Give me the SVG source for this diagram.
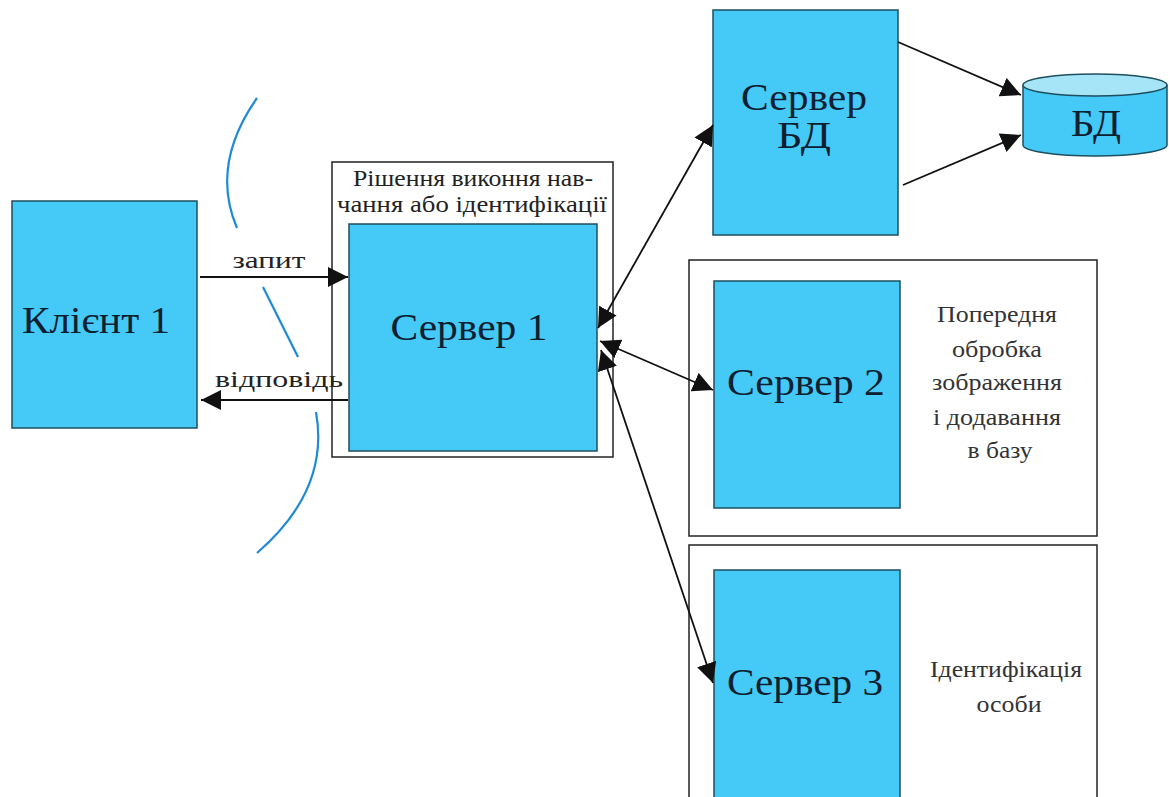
<svg xmlns="http://www.w3.org/2000/svg" width="1169" height="797" viewBox="0 0 1169 797">
<style>
.node{fill:#45c9f7;stroke:#1d4f5e;stroke-width:1.5}
.frame{fill:none;stroke:#222;stroke-width:1.5}
text{font-family:"Liberation Serif","DejaVu Serif",serif;text-anchor:middle}
.big{font-size:37px;fill:#0c2030}
.lbl{font-size:23px;fill:#222}
.side{font-size:23px;fill:#333}
.con{stroke:#111;stroke-width:1.8;fill:none}
.arc{stroke:#1f8ad6;stroke-width:2.2;fill:none}
</style>
<defs>
<marker id="ahb" viewBox="0 0 10 10" refX="10" refY="5" markerWidth="20" markerHeight="20" markerUnits="userSpaceOnUse" orient="auto-start-reverse">
<path d="M0,0 L10,5 L0,10 z" fill="#111"/>
</marker>
</defs>
<rect width="1169" height="797" fill="#fff"/>

<g id="arcs">
<path class="arc" d="M257,98 Q210,165 237,228"/>
<path class="arc" d="M263,287 L298,357"/>
<path class="arc" d="M316,412 Q330,490 257,553"/>
</g>

<g id="client1">
<rect class="node" x="12" y="201" width="185" height="227"/>
<text class="big" x="96" y="333" textLength="148" lengthAdjust="spacingAndGlyphs">Клієнт 1</text>
</g>

<g id="server1">
<rect class="frame" x="332" y="162" width="281" height="295"/>
<text class="lbl" x="473" y="186" textLength="240" lengthAdjust="spacingAndGlyphs">Рішення виконня нав-</text>
<text class="lbl" x="472" y="212" textLength="270" lengthAdjust="spacingAndGlyphs">чання або ідентифікації</text>
<rect class="node" x="349" y="224" width="248" height="227"/>
<text class="big" x="469" y="340" textLength="157" lengthAdjust="spacingAndGlyphs">Сервер 1</text>
</g>

<g id="serverBD">
<rect class="node" x="713" y="10" width="185" height="225"/>
<text class="big" x="804" y="110" textLength="126" lengthAdjust="spacingAndGlyphs">Сервер</text>
<text class="big" x="804" y="148" textLength="54" lengthAdjust="spacingAndGlyphs">БД</text>
</g>

<g id="bd">
<path class="node" d="M1023,85 L1023,145 A72,11 0 0 0 1167,145 L1167,85"/>
<ellipse cx="1095" cy="85" rx="72" ry="11" fill="#a6e4f7" stroke="#1d4f5e" stroke-width="1.5"/>
<text class="big" x="1096" y="136" textLength="50" lengthAdjust="spacingAndGlyphs">БД</text>
</g>

<g id="server2">
<rect class="frame" x="689" y="260" width="408" height="276"/>
<rect class="node" x="714" y="281" width="186" height="227"/>
<text class="big" x="806" y="395" textLength="158" lengthAdjust="spacingAndGlyphs">Сервер 2</text>
<text class="side" x="997" y="322" textLength="120" lengthAdjust="spacingAndGlyphs">Попередня</text>
<text class="side" x="997" y="357" textLength="90" lengthAdjust="spacingAndGlyphs">обробка</text>
<text class="side" x="997" y="390" textLength="130" lengthAdjust="spacingAndGlyphs">зображення</text>
<text class="side" x="997" y="425" textLength="128" lengthAdjust="spacingAndGlyphs">і додавання</text>
<text class="side" x="1000" y="458" textLength="65" lengthAdjust="spacingAndGlyphs">в базу</text>
</g>

<g id="server3">
<rect class="frame" x="689" y="545" width="408" height="260"/>
<rect class="node" x="714" y="570" width="186" height="235"/>
<text class="big" x="805" y="695" textLength="156" lengthAdjust="spacingAndGlyphs">Сервер 3</text>
<text class="side" x="1006" y="677" textLength="152" lengthAdjust="spacingAndGlyphs">Ідентифікація</text>
<text class="side" x="1009" y="712" textLength="65" lengthAdjust="spacingAndGlyphs">особи</text>
</g>

<g id="connectors">
<line class="con" x1="200" y1="277" x2="348" y2="277" marker-end="url(#ahb)"/>
<text class="lbl" x="269" y="268" textLength="73" lengthAdjust="spacingAndGlyphs">запит</text>
<line class="con" x1="348" y1="400" x2="201" y2="400" marker-end="url(#ahb)"/>
<text class="lbl" x="279" y="387" textLength="128" lengthAdjust="spacingAndGlyphs">відповідь</text>
<line class="con" x1="598" y1="328" x2="713" y2="125" marker-start="url(#ahb)" marker-end="url(#ahb)"/>
<line class="con" x1="600" y1="341" x2="713" y2="390" marker-start="url(#ahb)" marker-end="url(#ahb)"/>
<line class="con" x1="601" y1="350" x2="713" y2="683" marker-start="url(#ahb)" marker-end="url(#ahb)"/>
<line class="con" x1="898" y1="42" x2="1021" y2="95" marker-end="url(#ahb)"/>
<line class="con" x1="903" y1="185" x2="1021" y2="135" marker-end="url(#ahb)"/>
</g>
</svg>
